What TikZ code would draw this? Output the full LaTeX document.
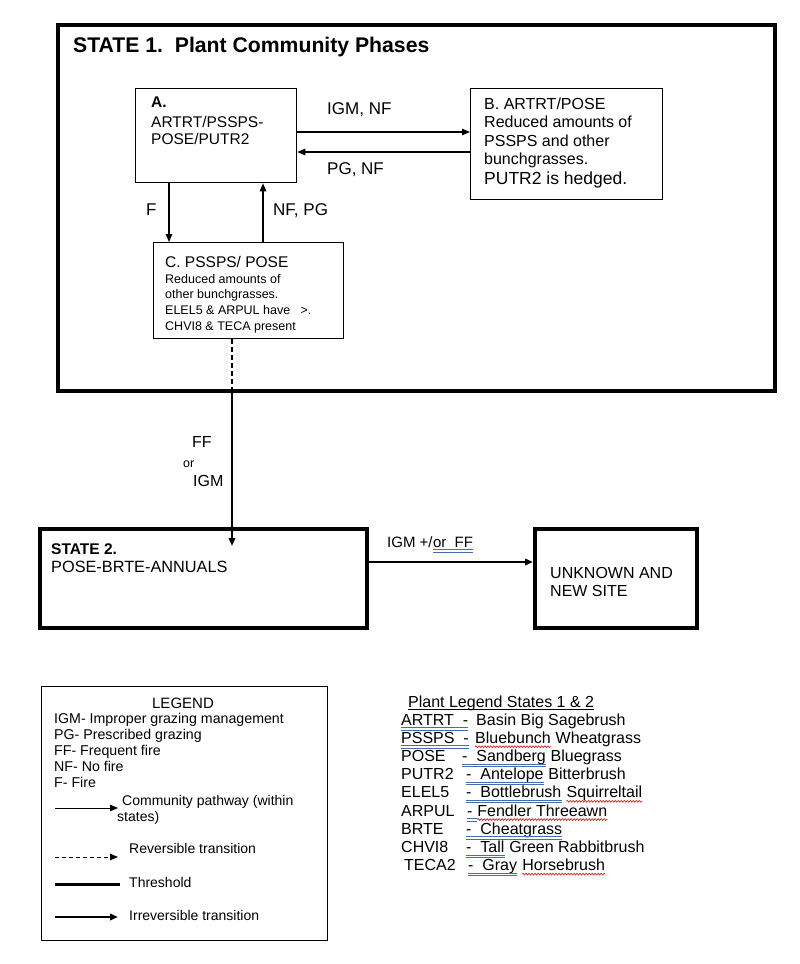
\documentclass[tikz,border=0pt]{standalone}
\usepackage{fontspec}
\setmainfont{Liberation Sans}
\usetikzlibrary{arrows.meta,decorations.pathmorphing}
\newcommand\fsz[1]{\fontsize{#1}{#1}\selectfont}
\definecolor{ulblue}{RGB}{70,110,175}
\definecolor{wavred}{RGB}{215,40,40}
\tikzset{
  txt/.style={inner sep=0pt, anchor=base west, font=\fsz{16}},
  box/.style={draw, line width=1.3pt, anchor=north west, inner sep=0pt},
  statebox/.style={draw, line width=4.2pt, anchor=north west, inner sep=0pt},
  tip/.style={-{Triangle[length=8pt,width=6.5pt]}},
  pathway/.style={line width=1.3pt, tip},
  reversible/.style={line width=1.4pt, dash pattern=on 5pt off 3pt},
  threshold/.style={line width=2.2pt},
  irrev/.style={line width=2.4pt, tip},
  blueul/.style={draw=ulblue, line width=0.8pt},
  redwave/.style={draw=wavred, line width=0.7pt, decorate,
     decoration={snake, amplitude=0.9pt, segment length=3pt}},
}
\newcommand\bul[1]{%
  \draw[blueul] ([yshift=-2.5pt]#1.base west) -- ([yshift=-2.5pt]#1.base east);
  \draw[blueul] ([yshift=-5pt]#1.base west) -- ([yshift=-5pt]#1.base east);}
\newcommand\rwav[1]{%
  \draw[redwave] ([yshift=-3.5pt]#1.base west) -- ([yshift=-3.5pt]#1.base east);}
\begin{document}
\begin{tikzpicture}[x=1pt,y=-1pt]
\path[use as bounding box, fill=white] (0,0) rectangle (800,964);

% ---------- State 1 ----------
\node[statebox, minimum width=717pt, minimum height=366pt] (S1) at (56,23) {};
\node[txt, font=\fsz{21.2}\bfseries] (t1) at (73,52) {STATE 1.\ \ Plant Community Phases};

\node[box, minimum width=161pt, minimum height=94pt] (A) at (135,88) {};
\node[txt, font=\fsz{15.5}\bfseries] (a1) at (151,107) {A.};
\node[txt, font=\fsz{15.5}] (a2) at (151,127) {ARTRT/PSSPS-};
\node[txt, font=\fsz{15.5}] (a3) at (151,144) {POSE/PUTR2};

\node[box, minimum width=192pt, minimum height=111pt] (B) at (470,88) {};
\node[txt] (b1) at (484,109) {B. ARTRT/POSE};
\node[txt] (b2) at (484,127.5) {Reduced amounts of};
\node[txt] (b3) at (484,146) {PSSPS and other};
\node[txt] (b4) at (484,164.5) {bunchgrasses.};
\node[txt, font=\fsz{17.5}] (b5) at (484,184) {PUTR2 is hedged.};

\node[box, minimum width=190pt, minimum height=96pt] (C) at (153,242) {};
\node[txt, font=\fsz{15.5}] (c1) at (165,267) {C. PSSPS/ POSE};
\node[txt, font=\fsz{12.5}] (c2) at (165,283) {Reduced amounts of};
\node[txt, font=\fsz{12.5}] (c3) at (165,298.5) {other bunchgrasses.};
\node[txt, font=\fsz{12.5}] (c4) at (165,314) {ELEL5 \& ARPUL have\ \ \ >.};
\node[txt, font=\fsz{12.5}] (c5) at (165,330) {CHVI8 \& TECA present};

\draw[pathway] (A.east |- 0,132) -- (B.west |- 0,132);
\draw[pathway] (B.west |- 0,152) -- (A.east |- 0,152);
\draw[pathway] (A.south -| 169,0) -- (C.north -| 169,0);
\draw[pathway] (C.north -| 263,0) -- (A.south -| 263,0);
\node[txt, font=\fsz{17}] (l1) at (327,114) {IGM, NF};
\node[txt, font=\fsz{17}] (l2) at (327,174) {PG, NF};
\node[txt, font=\fsz{17}] (l3) at (146,215) {F};
\node[txt, font=\fsz{17}] (l4) at (273,215) {NF, PG};

% ---------- threshold ----------
\node[statebox, minimum width=327pt, minimum height=99pt] (S2) at (38,527) {};
\node[statebox, minimum width=162pt, minimum height=99pt] (U) at (533,527) {};
\coordinate (tend) at (232,546);
\draw[reversible] (C.south -| 232,0) -- (S1.south -| 232,0);
\draw[threshold, tip] (S1.south -| 232,0) -- (tend);
\node[txt] (f1) at (192,447) {FF};
\node[txt, font=\fsz{12.5}] (f2) at (183,467) {or};
\node[txt] (f3) at (193,486) {IGM};

\node[txt, font=\fsz{15.5}\bfseries] (s21) at (51,554) {STATE 2.};
\node[txt, font=\fsz{16.3}] (s22) at (51,572) {POSE-BRTE-ANNUALS};
\node[txt] (u1) at (550,578) {UNKNOWN AND};
\node[txt] (u2) at (550,596) {NEW SITE};
\draw[irrev] (S2.east |- 0,562) -- (U.west |- 0,562);
\node[txt, font=\fsz{15}] (i1) at (387,547) {IGM +/};
\node[txt, font=\fsz{15}] (i2) at (i1.base east) {or\ \ FF};
\bul{i2}

% ---------- legend ----------
\node[draw, line width=1pt, anchor=north west, inner sep=0pt, minimum width=286pt, minimum height=254pt] (L) at (41,686) {};
\node[inner sep=0pt, anchor=base, font=\fsz{15}] (lg) at (183,708) {LEGEND};
\node[txt, font=\fsz{14.2}] (g1) at (54,723) {IGM- Improper grazing management};
\node[txt, font=\fsz{14.2}] (g2) at (54,739.2) {PG- Prescribed grazing};
\node[txt, font=\fsz{14.2}] (g3) at (54,755.4) {FF- Frequent fire};
\node[txt, font=\fsz{14.2}] (g4) at (54,771.6) {NF- No fire};
\node[txt, font=\fsz{14.2}] (g5) at (54,787.8) {F- Fire};
\coordinate (k1a) at (55,808); \coordinate (k1b) at (118,808);
\coordinate (k2a) at (55,857); \coordinate (k2b) at (118,857);
\coordinate (k3a) at (55,884); \coordinate (k3b) at (120,884);
\coordinate (k4a) at (55,917); \coordinate (k4b) at (118,917);
\draw[line width=1pt, tip] (k1a) -- (k1b);
\draw[line width=1pt, dash pattern=on 4pt off 3pt, tip] (k2a) -- (k2b);
\draw[line width=3pt] (k3a) -- (k3b);
\draw[line width=2pt, tip] (k4a) -- (k4b);
\node[txt, font=\fsz{14}] (g6) at (122,805) {Community pathway (within};
\node[txt, font=\fsz{14}] (g7) at (117,821) {states)};
\node[txt, font=\fsz{14}] (g8) at (129,853) {Reversible transition};
\node[txt, font=\fsz{14}] (g9) at (129,887) {Threshold};
\node[txt, font=\fsz{14}] (g10) at (129,920) {Irreversible transition};

% ---------- plant legend ----------
\node[txt] (ph) at (408,707) {Plant Legend States 1 \& 2};
\draw[line width=0.8pt] ([yshift=-2.5pt]ph.base west) -- ([yshift=-2.5pt]ph.base east);

\node[txt] (p1a) at (401,725) {ARTRT\ \ -}; \bul{p1a}
\node[txt] (p1b) at (476,725) {Basin Big Sagebrush};

\node[txt] (p2a) at (401,743.2) {PSSPS\ \ -}; \bul{p2a}
\node[txt] (p2b) at (475,743.2) {Bluebunch}; \rwav{p2b}
\node[txt] (p2c) at (p2b.base east) {\ Wheatgrass};

\node[txt] (p3a) at (401,761.4) {POSE};
\node[txt] (p3b) at (462,761.4) {-\ \ Sandberg}; \bul{p3b}
\node[txt] (p3c) at (p3b.base east) {\ Bluegrass};

\node[txt] (p4a) at (401,779.6) {PUTR2};
\node[txt] (p4b) at (466,779.6) {-\ \ Antelope}; \bul{p4b}
\node[txt] (p4c) at (p4b.base east) {\ Bitterbrush};

\node[txt] (p5a) at (401,797.8) {ELEL5};
\node[txt] (p5b) at (466,797.8) {-\ \ Bottlebrush}; \bul{p5b}
\node[txt] (p5c) at (p5b.base east) {\kern4.45pt};
\node[txt] (p5d) at (p5c.base east) {Squirreltail}; \rwav{p5d}

\node[txt] (p6a) at (401,816) {ARPUL};
\node[txt] (p6b) at (467,816) {-\kern4.45pt}; \bul{p6b}
\node[txt] (p6c) at (p6b.base east) {Fendler Threeawn}; \rwav{p6c}

\node[txt] (p7a) at (401,834.2) {BRTE};
\node[txt] (p7b) at (466,834.2) {-\ \ Cheatgrass}; \bul{p7b}

\node[txt] (p8a) at (401,852.4) {CHVI8};
\node[txt] (p8b) at (466,852.4) {-\ \ Tall}; \bul{p8b}
\node[txt] (p8c) at (p8b.base east) {\ Green Rabbitbrush};

\node[txt] (p9a) at (404,870.6) {TECA2};
\node[txt] (p9b) at (468,870.6) {-\ \ Gray}; \bul{p9b}
\node[txt] (p9c) at (p9b.base east) {\kern4.45pt};
\node[txt] (p9d) at (p9c.base east) {Horsebrush}; \rwav{p9d}
\end{tikzpicture}
\end{document}
